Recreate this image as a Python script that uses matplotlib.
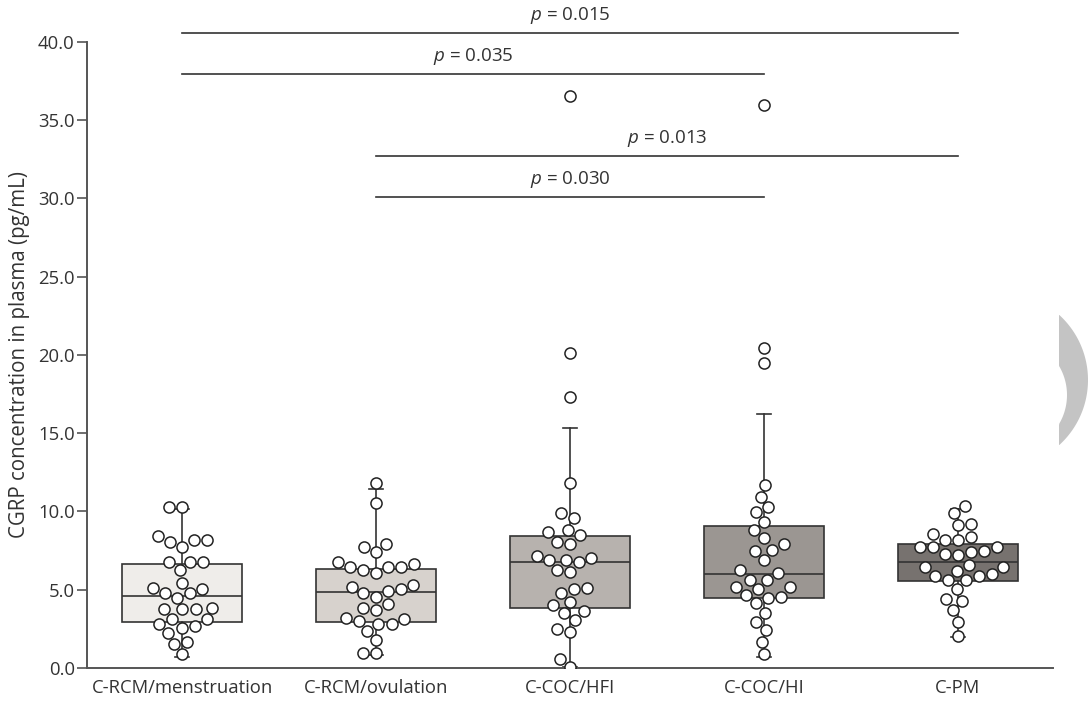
import numpy as np
import pandas as pd
import matplotlib
matplotlib.use("Agg")
import matplotlib.pyplot as plt
import seaborn as sns
from matplotlib.patches import Polygon

groups = ["C-RCM/menstruation", "C-RCM/ovulation", "C-COC/HFI", "C-COC/HI", "C-PM"]

rcm_mens = [10.26, 10.26, 8.45, 8.19, 8.19, 8.02, 7.76, 6.74, 6.74, 6.74, 6.25, 5.46,
            5.03, 5.14, 4.78, 4.78, 4.50, 3.75, 3.75, 3.75, 3.86, 3.11, 3.11, 2.69,
            2.83, 2.58, 2.22, 1.68, 1.52, 0.88]
rcm_ovul = [11.82, 10.54, 7.70, 7.91, 7.38, 6.78, 6.48, 6.48, 6.48, 6.63, 6.10, 6.25,
            5.31, 5.18, 5.03, 4.93, 4.78, 4.54, 4.07, 3.86, 3.71, 3.22, 3.01, 3.11,
            2.79, 2.83, 2.37, 1.79, 0.98, 0.98]
coc_hfi = [36.53, 20.15, 17.34, 11.82, 9.87, 9.55, 8.83, 8.66, 8.49, 7.93, 8.06, 7.17,
           6.91, 6.74, 6.91, 7.02, 6.14, 6.25, 5.10, 5.03, 4.82, 4.24, 4.01, 3.65,
           3.50, 3.07, 2.32, 2.47, 0.60, 0.08]
coc_hi = [35.96, 20.41, 19.51, 11.69, 10.92, 9.98, 10.26, 9.34, 8.83, 8.32, 7.89, 7.53,
          7.50, 6.89, 6.08, 6.23, 5.65, 5.65, 5.20, 5.16, 5.03, 4.67, 4.54, 4.50,
          4.14, 3.54, 2.96, 2.45, 1.68, 0.88]
pm = [10.32, 9.90, 9.19, 9.13, 8.34, 8.17, 8.17, 8.55, 7.70, 7.70, 7.70, 7.44, 7.21,
      7.27, 7.49, 6.59, 6.42, 6.42, 5.89, 6.00, 6.21, 5.89, 5.61, 5.63, 5.03, 4.29,
      4.40, 3.71, 2.96, 2.05]

# box summary as drawn (median, quartiles, whisker ends)
medians = [4.61, 4.88, 6.74, 6.03, 6.78]
q1s = [2.94, 2.96, 3.86, 4.46, 5.57]
q3s = [6.67, 6.31, 8.40, 9.08, 7.93]
whis_lo = [0.70, 0.83, 0.08, 0.68, 1.98]
whis_hi = [10.15, 11.43, 15.36, 16.25, 10.15]
box_colors = ["#efedea", "#d7d2cd", "#b7b2ae", "#9b9692", "#77726f"]

# significance brackets: (group i, group j, bar height, label)
comparisons = [(0, 4, 40.55, "0.015"), (0, 3, 37.95, "0.035"),
               (1, 4, 32.7, "0.013"), (1, 3, 30.07, "0.030")]

plt.rcParams["font.family"] = ["Open Sans", "DejaVu Sans"]
plt.rcParams["mathtext.fontset"] = "custom"
plt.rcParams["mathtext.rm"] = "Open Sans"
plt.rcParams["mathtext.it"] = "Open Sans:italic"

txt = "#333333"
fig = plt.figure(figsize=(10.91, 7.02), dpi=100)
ax = fig.add_axes([0.080, 0.0484, 0.885, 0.8922])

stats = []
for k in range(len(groups)):
    stats.append(dict(med=medians[k], q1=q1s[k], q3=q3s[k],
                      whislo=whis_lo[k], whishi=whis_hi[k], fliers=[]))
bp = ax.bxp(stats, positions=range(len(groups)), widths=0.62, patch_artist=True,
            showfliers=False, capwidths=0.07,
            boxprops=dict(edgecolor="#333333", linewidth=1.2),
            medianprops=dict(color="#333333", linewidth=1.2),
            whiskerprops=dict(color="#333333", linewidth=1.2),
            capprops=dict(color="#333333", linewidth=1.2))
for patch, c in zip(bp["boxes"], box_colors):
    patch.set_facecolor(c)

df = pd.DataFrame({
    "group": np.repeat(groups, [len(rcm_mens), len(rcm_ovul), len(coc_hfi), len(coc_hi), len(pm)]),
    "value": rcm_mens + rcm_ovul + coc_hfi + coc_hi + pm,
})
sns.swarmplot(data=df, x="group", y="value", order=groups, ax=ax, size=8,
              color="white", edgecolor="#222222", linewidth=1.1, zorder=5)

for i, j, h, lab in comparisons:
    ax.plot([i, j], [h, h], color="#333333", lw=1.2, clip_on=False)
    ax.text((i + j) / 2, h + 0.45, r"$p$ = " + lab, ha="center", va="bottom",
            fontsize=13.5, color=txt, clip_on=False)

ax.set_xlim(-0.49, 4.49)
ax.set_ylim(0, 40)
ax.set_yticks(np.arange(0, 40.1, 5))
ax.set_yticklabels([f"{v:.1f}" for v in np.arange(0, 40.1, 5)])
ax.set_xticks(range(len(groups)))
ax.set_xticklabels(groups)
ax.set_xlabel("")
ax.set_ylabel("CGRP concentration in plasma (pg/mL)", fontsize=14.8, color=txt, labelpad=6)
ax.tick_params(axis="y", length=7, width=1.2, color="#555555", labelsize=13.3,
               labelcolor=txt, pad=2)
ax.tick_params(axis="x", length=0, labelsize=13.3, labelcolor=txt, pad=8)
for s in ["top", "right"]:
    ax.spines[s].set_visible(False)
for s in ["left", "bottom"]:
    ax.spines[s].set_color("#555555")
    ax.spines[s].set_linewidth(1.4)

# grey crescent at the right page edge
yy = np.linspace(315, 445, 80)
xr = 1000 + np.sqrt(np.clip(88 ** 2 - (yy - 380) ** 2, 0, None))
xl = np.where(np.abs(yy - 395) < 57,
              np.maximum(1059, 1010 + np.sqrt(np.clip(57 ** 2 - (yy - 395) ** 2, 0, None))), 1059)
pts = np.concatenate([np.column_stack([xr, yy]), np.column_stack([xl, yy])[::-1]])
pts[:, 1] = 702 - pts[:, 1]
fig.patches.append(Polygon(pts / 100.0, closed=True, transform=fig.dpi_scale_trans,
                           facecolor="#c4c4c4", edgecolor="none"))

fig.savefig("out.png", dpi=100)
